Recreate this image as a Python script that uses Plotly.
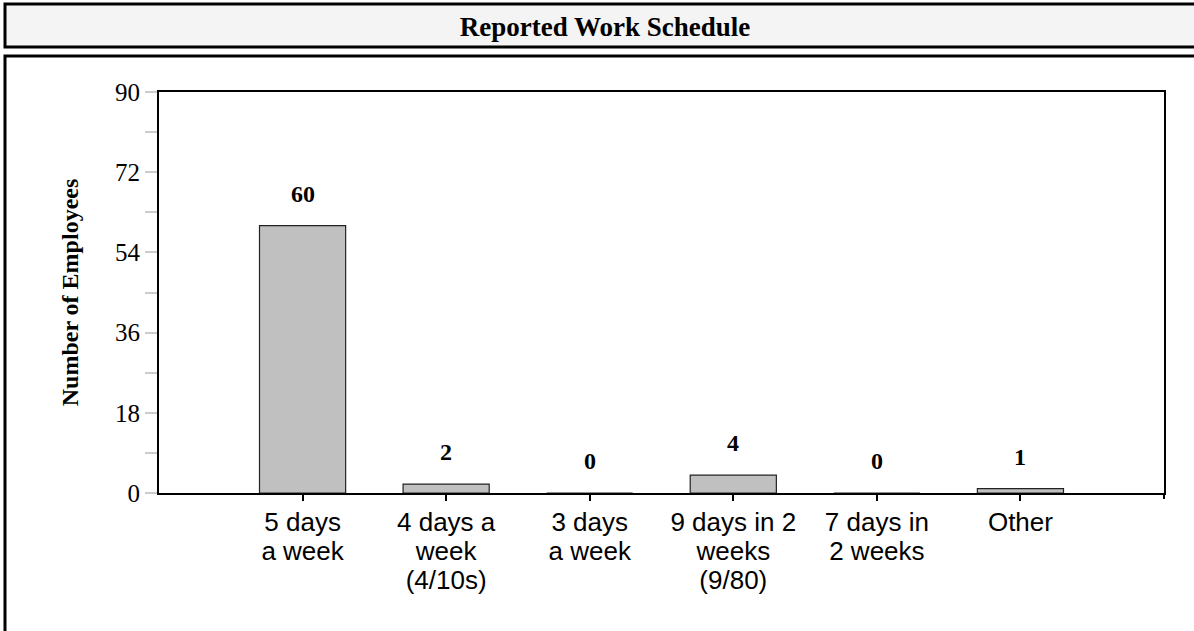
import plotly.graph_objects as go

categories = ["5 days<br>a week", "4 days a<br>week<br>(4/10s)", "3 days<br>a week",
              "9 days in 2<br>weeks<br>(9/80)", "7 days in<br>2 weeks", "Other"]
employees = [60, 2, 0, 4, 0, 1]
y_tickvals = [0, 18, 36, 54, 72, 90]

W, H = 1194, 631
L, R, T, B = 159, 1164, 92, 493  # plot area in px

def px_x(v):
    return (v - L) / (R - L)

def px_y(v):
    return (B - v) / (B - T)

# larger glyphs with tighter line spacing, as in the original
tick_text = ["<br>".join("<span style='font-size:26px'>%s</span>" % ln for ln in c.split("<br>"))
             for c in categories]

fig = go.Figure()
fig.add_trace(go.Bar(
    x=categories, y=employees, width=0.6,
    marker=dict(color="#c0c0c0", line=dict(color="#222222", width=1.2)),
    hoverinfo="skip",
))

for c, v in zip(categories, employees):
    fig.add_annotation(x=c, y=v, text="<b>%d</b>" % v, showarrow=False, yanchor="middle",
                       yshift=32, font=dict(family="Liberation Serif", size=24, color="black"),
                       xref="x", yref="y")

shapes = [
    dict(type="rect", xref="paper", yref="paper",
         x0=px_x(5), x1=px_x(1210), y0=px_y(47), y1=px_y(4),
         line=dict(color="black", width=3), fillcolor="#f4f4f4", layer="below"),
    dict(type="rect", xref="paper", yref="paper",
         x0=px_x(5), x1=px_x(1210), y0=px_y(650), y1=px_y(56),
         line=dict(color="black", width=3), fillcolor="rgba(0,0,0,0)", layer="below"),
    dict(type="line", xref="paper", yref="paper",
         x0=1, x1=1, y0=0, y1=px_y(499),
         line=dict(color="black", width=2)),
]

fig.update_layout(
    width=W, height=H,
    margin=dict(l=L, r=W - R, t=T, b=H - B),
    paper_bgcolor="white", plot_bgcolor="white",
    showlegend=False, shapes=shapes,
    title=dict(text="<b>Reported Work Schedule</b>", xref="container", yref="container",
               x=605 / W, y=1 - 26.5 / H, xanchor="center", yanchor="middle",
               font=dict(family="Liberation Serif", size=27, color="black")),
    xaxis=dict(range=[-1, 6], showgrid=False, zeroline=False,
               tickmode="array", tickvals=categories, ticktext=tick_text,
               ticklabelstandoff=4,
               showline=True, linecolor="black", linewidth=2, mirror=True,
               ticks="outside", ticklen=6, tickwidth=2, tickcolor="black",
               tickfont=dict(family="Liberation Sans", size=22, color="black")),
    yaxis=dict(range=[0, 90], tickvals=y_tickvals, showgrid=False, zeroline=False,
               showline=True, linecolor="black", linewidth=2, mirror=True,
               ticks="outside", ticklen=12, tickwidth=2, tickcolor="#cccccc",
               minor=dict(dtick=9, ticks="outside", ticklen=12, tickwidth=2, tickcolor="#cccccc"),
               tickfont=dict(family="Liberation Serif", size=25, color="black"),
               title=dict(text="<b>Number of Employees</b>", standoff=30,
                          font=dict(family="Liberation Serif", size=24, color="black"))),
)

fig.write_html("out.html", config={"displayModeBar": False},
               post_script="document.body.style.margin='0px';")
